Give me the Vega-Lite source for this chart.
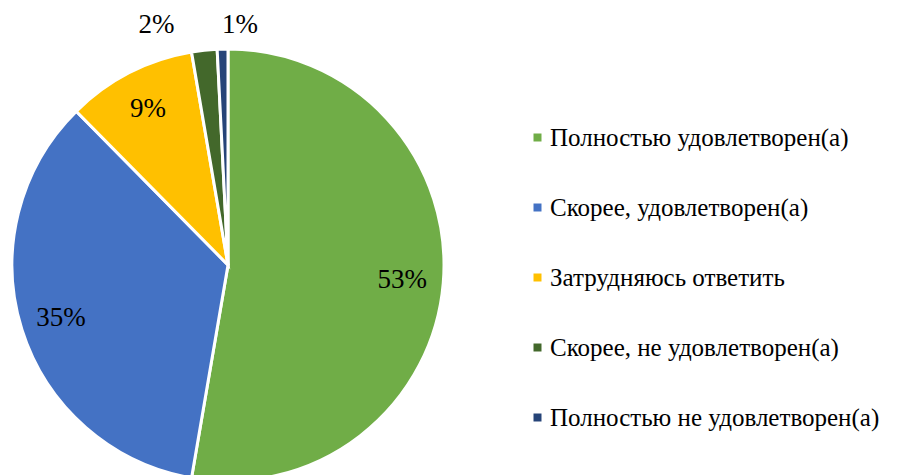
{
  "$schema": "https://vega.github.io/schema/vega-lite/v6.json",
  "autosize": "none",
  "padding": {"top": 55, "left": 0, "right": 451, "bottom": 0},
  "width": 456,
  "height": 420,
  "background": "white",
  "config": {"font": "Liberation Serif"},
  "data": {
    "values": [
      {"n": 1, "cat": "Полностью удовлетворен(а)", "value": 52.7, "label": "53%"},
      {"n": 2, "cat": "Скорее, удовлетворен(а)", "value": 34.9, "label": "35%"},
      {"n": 3, "cat": "Затрудняюсь ответить", "value": 9.7, "label": "9%"},
      {"n": 4, "cat": "Скорее, не удовлетворен(а)", "value": 1.9, "label": "2%"},
      {"n": 5, "cat": "Полностью не удовлетворен(а)", "value": 0.8, "label": "1%"}
    ]
  },
  "encoding": {
    "theta": {"field": "value", "type": "quantitative", "stack": true},
    "order": {"field": "n", "type": "quantitative"}
  },
  "layer": [
    {
      "mark": {"type": "arc", "outerRadius": 216, "stroke": "white", "strokeWidth": 3},
      "encoding": {
        "color": {
          "field": "cat",
          "type": "nominal",
          "sort": null,
          "scale": {
            "domain": ["Полностью удовлетворен(а)", "Скорее, удовлетворен(а)", "Затрудняюсь ответить", "Скорее, не удовлетворен(а)", "Полностью не удовлетворен(а)"],
            "range": ["#70AD47", "#4472C4", "#FFC000", "#43682B", "#264478"]
          },
          "legend": {
            "orient": "none",
            "legendX": 525,
            "legendY": 70,
            "title": null,
            "symbolType": "square",
            "symbolSize": 64,
            "symbolStrokeWidth": 0,
            "labelFont": "Liberation Serif",
            "labelFontSize": 25,
            "labelColor": "black",
            "rowPadding": 44,
            "labelOffset": 0,
            "padding": 0,
            "labelLimit": 0
          }
        }
      }
    },
    {
      "mark": {"type": "text", "radius": 175, "font": "Liberation Serif", "fontSize": 27, "color": "black"},
      "encoding": {
        "text": {"field": "label", "type": "nominal", "condition": {"test": "datum.value < 5", "value": ""}}
      }
    },
    {
      "mark": {"type": "text", "radius": 241, "dx": -45, "font": "Liberation Serif", "fontSize": 27, "color": "black"},
      "encoding": {
        "text": {"field": "label", "type": "nominal", "condition": {"test": "datum.n != 4", "value": ""}}
      }
    },
    {
      "mark": {"type": "text", "radius": 240, "dx": 18, "font": "Liberation Serif", "fontSize": 27, "color": "black"},
      "encoding": {
        "text": {"field": "label", "type": "nominal", "condition": {"test": "datum.n != 5", "value": ""}}
      }
    }
  ]
}
